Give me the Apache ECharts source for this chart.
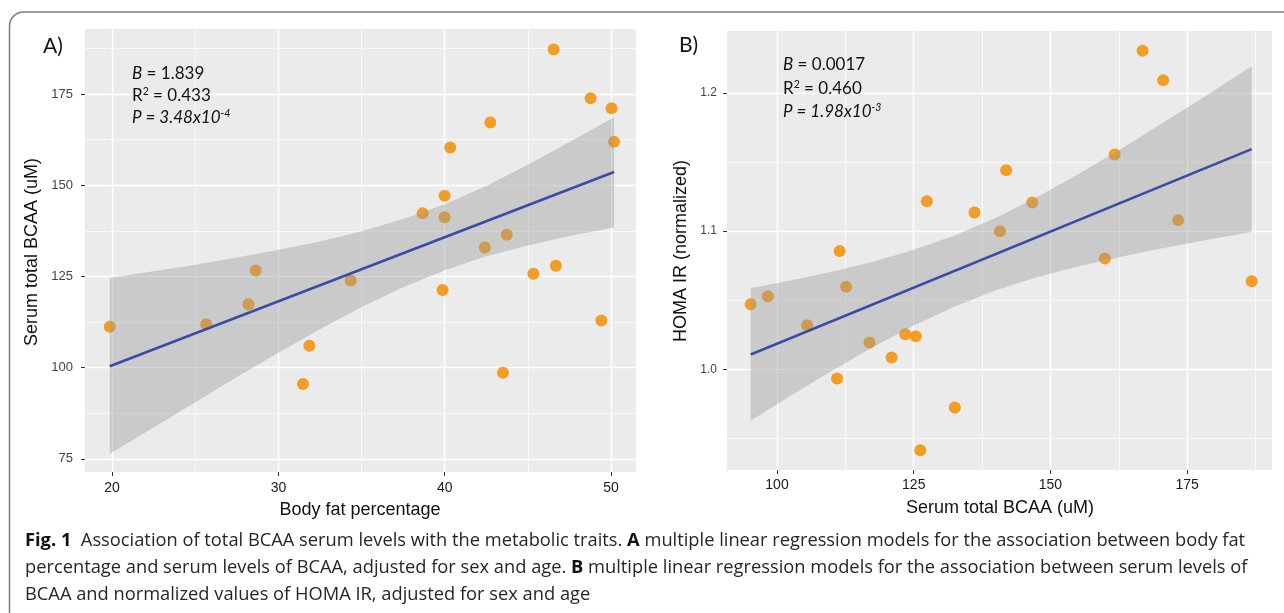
<!DOCTYPE html>
<html><head><meta charset="utf-8">
<script src="https://cdn.jsdelivr.net/npm/echarts@6/dist/echarts.min.js"></script>
<style>html,body{margin:0;padding:0;background:#fff}#c{width:1284px;height:613px}</style>
</head><body><div id="c"></div>
<script>
// ---------- Panel A: body fat % vs serum BCAA ----------
const aBodyFat = [46.55,48.77,50.03,42.74,50.18,40.33,39.99,38.67,39.99,43.73,42.41,45.33,46.68,34.35,28.63,39.87,28.2,19.86,25.66,49.42,31.86,31.48,43.5];
const aBCAA    = [187.2,173.8,171.1,167.2,161.9,160.3,147.1,142.3,141.2,136.4,132.9,125.7,127.9,123.9,126.6,121.3,117.4,111.2,111.9,112.9,106.0,95.5,98.6];
const aFitX = [19.86, 50.18];
const aFitY = [100.4, 153.6];
const aBandX     = [19.86,22.5,25,27.5,30,32.5,35,37.5,40,42.5,45,47.5,50.18];
const aBandUpper = [124.6,126.4,128.2,130.2,132.3,134.6,137.4,140.7,144.8,149.8,155.6,161.8,168.6];
const aBandLower = [76.4,83.6,90.5,97.4,104.1,110.5,116.6,122.0,126.7,130.5,133.5,136.1,138.4];
const aXTicks = [20,30,40,50];
const aYTicks = [75,100,125,150,175];
const aXMinor = [25,35,45];
const aYMinor = [87.5,112.5,137.5,162.5,187.5];

// ---------- Panel B: serum BCAA vs HOMA IR ----------
const bBCAA = [166.84,170.6,161.74,141.88,127.4,146.67,136.1,173.35,140.75,111.45,159.95,186.78,112.64,98.34,95.19,105.52,123.45,125.38,116.92,120.96,110.99,132.52,126.2];
const bHOMA = [1.2307,1.2094,1.1556,1.1442,1.1217,1.1208,1.1135,1.108,1.1,1.0857,1.0802,1.0638,1.0597,1.0529,1.0471,1.0319,1.0254,1.0239,1.0193,1.0085,0.9933,0.9722,0.9413];
const bFitX = [95.19, 186.78];
const bFitY = [1.0107, 1.1594];
const bBandX     = [95.19,102.5,110,117.5,125,132.5,140,147.5,155,162.5,170,178.5,186.78];
const bBandUpper = [1.0587,1.0643,1.0706,1.0779,1.0865,1.0969,1.1096,1.1246,1.1411,1.1586,1.1770,1.1982,1.2194];
const bBandLower = [0.9627,0.9807,0.9988,1.0159,1.0317,1.0455,1.0572,1.0666,1.0745,1.0812,1.0872,1.0936,1.0994];
const bXTicks = [100,125,150,175];
const bYTicks = [1.0,1.1,1.2];
const bXMinor = [112.5,137.5,162.5,187.5];
const bYMinor = [0.95,1.05,1.15];

const ORANGE = '#F29D26', BLUE = '#3B4CA8', BAND = 'rgba(153,153,153,0.4)';
const AX_FONT = 'Liberation Sans, Arial, sans-serif';
const CAL = 'Lato, sans-serif';
const CAP = 'Open Sans, sans-serif';

function zip(a, b) { return a.map((v, i) => [v, b[i]]); }
function gridLines(xMajor, xMinor, yMajor, yMinor) {
  const d = [];
  xMinor.forEach(v => d.push({xAxis: v, lineStyle: {width: 0.7}}));
  yMinor.forEach(v => d.push({yAxis: v, lineStyle: {width: 0.7}}));
  xMajor.forEach(v => d.push({xAxis: v, lineStyle: {width: 1.4}}));
  yMajor.forEach(v => d.push({yAxis: v, lineStyle: {width: 1.4}}));
  return d;
}
function bandSeries(idx, bx, up, lo) {
  return {
    type: 'custom', xAxisIndex: idx, yAxisIndex: idx, z: 3, silent: true,
    data: [[bx[0], up[0]]],
    renderItem: function (params, api) {
      const pts = [];
      for (let k = 0; k < bx.length; k++) pts.push(api.coord([bx[k], up[k]]));
      for (let k = bx.length - 1; k >= 0; k--) pts.push(api.coord([bx[k], lo[k]]));
      return {type: 'polygon', shape: {points: pts}, style: {fill: BAND}};
    }
  };
}
function xAxisCfg(idx, min, max, ticks, fs, margin) {
  return {
    type: 'value', gridIndex: idx, min: min, max: max,
    axisLine: {show: false}, splitLine: {show: false},
    axisTick: {show: true, customValues: ticks, length: 4, lineStyle: {color: '#333', width: 1}},
    axisLabel: {customValues: ticks, color: '#1a1a1a', fontSize: fs, fontFamily: AX_FONT, margin: margin}
  };
}
function yAxisCfg(idx, min, max, ticks, fs, margin, fmt) {
  return {
    type: 'value', gridIndex: idx, min: min, max: max,
    axisLine: {show: false}, splitLine: {show: false},
    axisTick: {show: true, customValues: ticks, length: 4, lineStyle: {color: '#333', width: 1}},
    axisLabel: {customValues: ticks, color: '#444', fontSize: fs, fontFamily: AX_FONT, margin: margin, formatter: fmt}
  };
}
function annot(x, y, parts) {
  return {type: 'text', x: x, y: y, z: 100, style: {
    text: parts, verticalAlign: 'middle', align: 'left',
    rich: {
      n: {fontFamily: CAL, fontSize: 17, fill: '#111', color: '#111', lineHeight: 20},
      i: {fontFamily: CAL, fontSize: 17, fontStyle: 'italic', fill: '#111', color: '#111', lineHeight: 20},
      s: {fontFamily: CAL, fontSize: 10.5, fill: '#111', color: '#111', verticalAlign: 'top', lineHeight: 10},
      si: {fontFamily: CAL, fontSize: 10.5, fontStyle: 'italic', fill: '#111', color: '#111', verticalAlign: 'top', lineHeight: 10}
    }}};
}
function title(x, y, text, rot) {
  return {type: 'text', x: x, y: y, rotation: rot || 0, z: 100, style: {
    text: text, font: '18px ' + AX_FONT, fill: '#111', align: 'center', verticalAlign: 'middle'}};
}
function capLine(y, text) {
  return {type: 'text', x: 25, y: y, z: 100, style: {
    text: text, verticalAlign: 'middle', align: 'left',
    rich: {
      n: {fontFamily: CAP, fontSize: 18.3, fill: '#262626', color: '#262626'},
      b: {fontFamily: CAP, fontSize: 18.3, fontWeight: 'bold', fill: '#111', color: '#111'}
    }}};
}

const chart = echarts.init(document.getElementById('c'), null, {renderer: 'canvas'});
chart.setOption({
  animation: false,
  backgroundColor: '#ffffff',
  grid: [
    {left: 85, top: 29, width: 551, height: 443, show: true, backgroundColor: '#EBEBEB', borderWidth: 0},
    {left: 727, top: 31, width: 545, height: 439, show: true, backgroundColor: '#EBEBEB', borderWidth: 0}
  ],
  xAxis: [
    xAxisCfg(0, 18.37, 51.5, aXTicks, 14, 9),
    xAxisCfg(1, 90.86, 190.5, bXTicks, 14, 8)
  ],
  yAxis: [
    yAxisCfg(0, 71.4, 192.8, aYTicks, 13, 12),
    yAxisCfg(1, 0.927, 1.245, bYTicks, 12, 10, v => v.toFixed(1))
  ],
  series: [
    {type: 'scatter', xAxisIndex: 0, yAxisIndex: 0, z: 2, symbolSize: 12,
     itemStyle: {color: ORANGE, opacity: 1}, data: zip(aBodyFat, aBCAA),
     markLine: {z: 1, silent: true, symbol: ['none', 'none'], label: {show: false},
       lineStyle: {color: '#ffffff', type: 'solid'}, emphasis: {disabled: true},
       data: gridLines(aXTicks, aXMinor, aYTicks, aYMinor)}},
    bandSeries(0, aBandX, aBandUpper, aBandLower),
    {type: 'line', xAxisIndex: 0, yAxisIndex: 0, z: 4, symbol: 'none', silent: true,
     lineStyle: {color: BLUE, width: 2.6}, data: zip(aFitX, aFitY)},

    {type: 'scatter', xAxisIndex: 1, yAxisIndex: 1, z: 2, symbolSize: 12,
     itemStyle: {color: ORANGE, opacity: 1}, data: zip(bBCAA, bHOMA),
     markLine: {z: 1, silent: true, symbol: ['none', 'none'], label: {show: false},
       lineStyle: {color: '#ffffff', type: 'solid'}, emphasis: {disabled: true},
       data: gridLines(bXTicks, bXMinor, bYTicks, bYMinor)}},
    bandSeries(1, bBandX, bBandUpper, bBandLower),
    {type: 'line', xAxisIndex: 1, yAxisIndex: 1, z: 4, symbol: 'none', silent: true,
     lineStyle: {color: BLUE, width: 2.6}, data: zip(bFitX, bFitY)}
  ],
  graphic: [
    {type: 'rect', z: 100, shape: {x: 9.5, y: 12, width: 1300, height: 640, r: 14},
     style: {fill: 'none', stroke: '#7d7d7d', lineWidth: 1.5}},
    {type: 'text', x: 43, y: 46, z: 100, style: {text: 'A)', font: '21px ' + CAL, fill: '#111', verticalAlign: 'middle'}},
    {type: 'text', x: 679, y: 45, z: 100, style: {text: 'B)', font: '21px ' + CAL, fill: '#111', verticalAlign: 'middle'}},
    annot(132, 74, '{i|B}{n| = 1.839}'),
    annot(132, 96, '{n|R}{s|2}{n| = 0.433}'),
    annot(132, 118, '{i|P = 3.48x10}{si|-4}'),
    annot(783, 65, '{i|B}{n| = 0.0017}'),
    annot(783, 89, '{n|R}{s|2}{n| = 0.460}'),
    annot(783, 112, '{i|P = 1.98x10}{si|-3}'),
    title(360, 510, 'Body fat percentage'),
    title(1000, 508, 'Serum total BCAA (uM)'),
    title(32, 252, 'Serum total BCAA (uM)', Math.PI / 2),
    title(681, 251, 'HOMA IR (normalized)', Math.PI / 2),
    capLine(541, '{b|Fig. 1}{n|  Association of total BCAA serum levels with the metabolic traits. }{b|A}{n| multiple linear regression models for the association between body fat}'),
    capLine(568, '{n|percentage and serum levels of BCAA, adjusted for sex and age. }{b|B}{n| multiple linear regression models for the association between serum levels of}'),
    capLine(595, '{n|BCAA and normalized values of HOMA IR, adjusted for sex and age}')
  ]
});
</script>
</body></html>
